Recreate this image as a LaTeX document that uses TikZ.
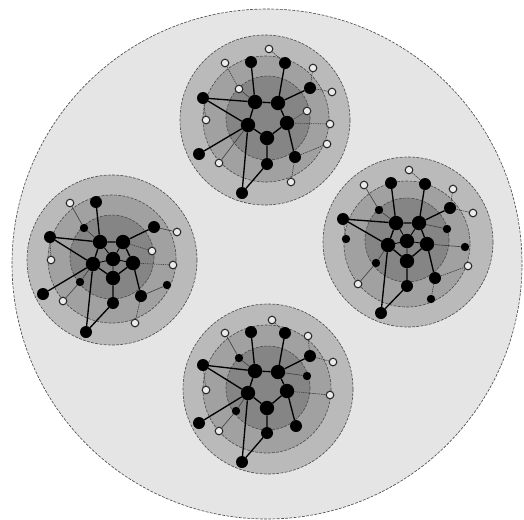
\documentclass[tikz,border=0pt]{standalone}
\usepackage{tikz}
\begin{document}
\begin{tikzpicture}[
    x=0.05cm, y=-0.05cm,
    rim/.style={draw=black!70, line width=0.9pt, dash pattern=on 4pt off 2pt},
    world/.style={rim, fill=black!10},
    shellA/.style={rim, fill=black!27},
    shellB/.style={rim, fill=black!37},
    shellC/.style={rim, fill=black!48},
    big/.style={circle, fill=black, minimum size=0.72cm, inner sep=0pt},
    mid/.style={circle, fill=black, minimum size=0.6cm, inner sep=0pt},
    small/.style={circle, fill=black, minimum size=0.42cm, inner sep=0pt},
    open/.style={circle, draw=black!85, fill=black!8, line width=1.5pt, minimum size=0.38cm, inner sep=0pt},
    link/.style={line width=1.9pt},
    spoke/.style={line width=1.2pt},
    faint/.style={line width=0.9pt, black!75},
    faintdash/.style={faint, dash pattern=on 2pt off 1.2pt}
]
\useasboundingbox (0,0) rectangle (524,520);
\draw[world] (267,264) circle (255);

\draw[shellA] (265,120) circle (85);
\draw[shellB] (266,119) circle (63);
\draw[shellC] (268,118) circle (42);
\draw[shellA] (112,260) circle (85);
\draw[shellB] (112,259) circle (64);
\draw[shellC] (112,257) circle (42);
\draw[shellA] (408,242) circle (85);
\draw[shellB] (407,244) circle (63);
\draw[shellC] (407,240) circle (42);
\draw[shellA] (268,389) circle (85);
\draw[shellB] (267,389) circle (64);
\draw[shellC] (268,388) circle (42);

\node[big] (tE) at (255,102) {};
\node[big] (tF) at (278,103) {};
\node[big] (tG) at (248,125) {};
\node[big] (tH) at (287,123) {};
\node[big] (tI) at (267,138) {};
\node[mid] (tA) at (251,62) {};
\node[mid] (tB) at (285,63) {};
\node[mid] (tC) at (310,88) {};
\node[mid] (tD) at (203,98) {};
\node[mid] (tJ) at (295,157) {};
\node[mid] (tK) at (267,164) {};
\node[mid] (tL) at (199,154) {};
\node[mid] (tM) at (242,193) {};
\node[open] (t1) at (269,49) {};
\node[open] (t2) at (225,63) {};
\node[open] (t3) at (313,68) {};
\node[open] (t4) at (239,89) {};
\node[open] (t5) at (332,92) {};
\node[open] (t6) at (307,111) {};
\node[open] (t7) at (206,120) {};
\node[open] (t8) at (330,124) {};
\node[open] (t9) at (327,144) {};
\node[open] (t10) at (219,163) {};
\node[open] (t11) at (291,182) {};
\draw[link] (tA) -- (tE) (tB) -- (tF) (tC) -- (tF) (tD) -- (tE) (tD) -- (tG)
    (tE) -- (tF) (tE) -- (tG) (tF) -- (tH) (tH) -- (tI) (tG) -- (tI)
    (tG) -- (tL) (tG) -- (tM) (tI) -- (tK) (tK) -- (tM) (tH) -- (tJ);
\draw[faintdash] (t1) -- (tB) (t2) -- (t4) (t3) -- (tC) (t5) -- (tC) (t6) -- (tH)
    (t8) -- (tH) (t9) -- (tJ) (t11) -- (tJ) (t7) -- (tD);
\draw[faint] (t4) -- (tE) (t10) -- (tG);

\node[big] (ld) at (100,242) {};
\node[big] (le) at (123,242) {};
\node[big] (lg) at (93,264) {};
\node[big] (lh) at (113,259) {};
\node[big] (li) at (133,263) {};
\node[big] (lj) at (113,278) {};
\node[mid] (la) at (96,202) {};
\node[mid] (lb) at (50,237) {};
\node[mid] (lf) at (154,227) {};
\node[mid] (lk) at (43,294) {};
\node[mid] (lm) at (141,296) {};
\node[mid] (ln) at (113,303) {};
\node[mid] (lq) at (86,332) {};
\node[small] (lc) at (84,228) {};
\node[small] (ll) at (80,282) {};
\node[small] (lp) at (167,285) {};
\node[open] (l1) at (70,203) {};
\node[open] (l2) at (177,232) {};
\node[open] (l3) at (152,251) {};
\node[open] (l4) at (51,260) {};
\node[open] (l5) at (173,265) {};
\node[open] (l6) at (63,301) {};
\node[open] (l7) at (135,323) {};
\draw[link] (la) -- (ld) (lb) -- (ld) (lb) -- (lg) (ld) -- (le) (le) -- (lf)
    (ld) -- (lg) (le) -- (li) (li) -- (lj) (lg) -- (lj) (lg) -- (lk)
    (lg) -- (lq) (lj) -- (ln) (ln) -- (lq) (li) -- (lm);
\draw[spoke] (lh) -- (ld) (lh) -- (le) (lh) -- (lg) (lh) -- (li) (lh) -- (lj);
\draw[faint] (lc) -- (ld) (lc) -- (l1) (lf) -- (l2) (lm) -- (lp) (ll) -- (lg) (ll) -- (l6);
\draw[faintdash] (li) -- (l5) (lm) -- (l7) (l3) -- (le) (l4) -- (lb);

\node[big] (rf) at (396,223) {};
\node[big] (rg) at (419,223) {};
\node[big] (ri) at (407,241) {};
\node[big] (rj) at (388,245) {};
\node[big] (rk) at (427,244) {};
\node[big] (rn) at (407,261) {};
\node[mid] (ra) at (391,183) {};
\node[mid] (rb) at (425,184) {};
\node[mid] (rc) at (450,208) {};
\node[mid] (rd) at (343,219) {};
\node[mid] (rq) at (435,278) {};
\node[mid] (rr) at (407,286) {};
\node[mid] (rt) at (381,313) {};
\node[small] (re) at (379,210) {};
\node[small] (rh) at (447,229) {};
\node[small] (rl) at (346,239) {};
\node[small] (rm) at (465,247) {};
\node[small] (rp) at (376,263) {};
\node[small] (rs) at (431,299) {};
\node[open] (r1) at (409,170) {};
\node[open] (r2) at (364,185) {};
\node[open] (r3) at (453,189) {};
\node[open] (r4) at (473,213) {};
\node[open] (r5) at (468,266) {};
\node[open] (r6) at (358,284) {};
\draw[link] (ra) -- (rf) (rb) -- (rg) (rc) -- (rg) (rd) -- (rf) (rd) -- (rj)
    (rf) -- (rg) (rf) -- (rj) (rg) -- (rk) (rk) -- (rn) (rj) -- (rn)
    (rj) -- (rt) (rn) -- (rr) (rr) -- (rt) (rk) -- (rq);
\draw[spoke] (ri) -- (rf) (ri) -- (rg) (ri) -- (rj) (ri) -- (rk) (ri) -- (rn);
\draw[faint] (re) -- (rf) (re) -- (r2) (rh) -- (rg) (rk) -- (rm) (rp) -- (rj) (rp) -- (r6);
\draw[faintdash] (r1) -- (rb) (r3) -- (rc) (r4) -- (rc) (rq) -- (r5) (rq) -- (rs) (rl) -- (rd);

\node[big] (bf) at (255,371) {};
\node[big] (bg) at (278,372) {};
\node[big] (bi) at (248,393) {};
\node[big] (bj) at (287,391) {};
\node[big] (bk) at (267,408) {};
\node[mid] (ba) at (251,332) {};
\node[mid] (bb) at (285,333) {};
\node[mid] (bc) at (310,356) {};
\node[mid] (bd) at (203,365) {};
\node[mid] (bm) at (199,423) {};
\node[mid] (bn) at (296,426) {};
\node[mid] (bp) at (267,433) {};
\node[mid] (bq) at (242,462) {};
\node[small] (be) at (239,358) {};
\node[small] (bh) at (307,376) {};
\node[small] (bl) at (236,411) {};
\node[open] (b1) at (272,320) {};
\node[open] (b2) at (225,333) {};
\node[open] (b3) at (308,336) {};
\node[open] (b4) at (333,362) {};
\node[open] (b5) at (206,390) {};
\node[open] (b6) at (330,395) {};
\node[open] (b7) at (219,431) {};
\draw[link] (ba) -- (bf) (bb) -- (bg) (bc) -- (bg) (bd) -- (bf) (bd) -- (bi)
    (bf) -- (bg) (bf) -- (bi) (bg) -- (bj) (bi) -- (bk) (bj) -- (bk)
    (bi) -- (bm) (bi) -- (bq) (bk) -- (bp) (bp) -- (bq) (bj) -- (bn);
\draw[faint] (be) -- (bf) (be) -- (b2) (bh) -- (bg) (bl) -- (bi) (bl) -- (b7);
\draw[faintdash] (b1) -- (bb) (b3) -- (bc) (b4) -- (bc) (bj) -- (b6) (b5) -- (bd);
\end{tikzpicture}
\end{document}
